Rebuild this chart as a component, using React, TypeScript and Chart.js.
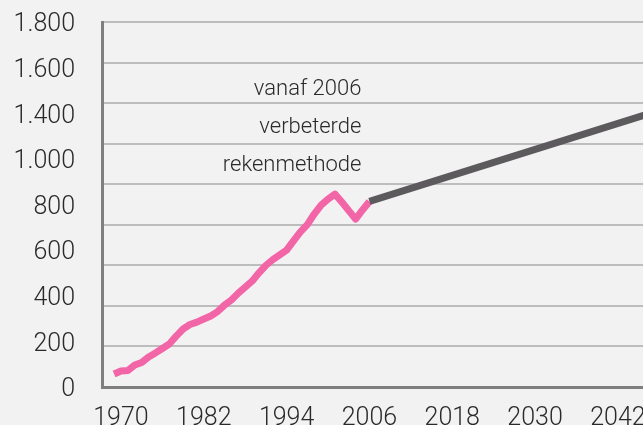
import React, { useEffect, useRef } from "react";
import { Chart, registerables } from "chart.js";

Chart.register(...registerables);

// Historical series (pink), values in gridline units
const historyYears = [
  1969, 1970, 1971, 1972, 1973, 1974, 1975, 1976, 1977, 1978, 1979, 1980, 1981,
  1982, 1983, 1984, 1985, 1986, 1987, 1988, 1989, 1990, 1991, 1992, 1993, 1994,
  1995, 1996, 1997, 1998, 1999, 2000, 2001, 2002, 2003, 2004, 2005, 2006,
];
const historyValues = [
  64, 79, 81, 108, 121, 148, 168, 190, 212, 251, 286, 308, 320,
  335, 350, 372, 404, 429, 463, 493, 522, 563, 600, 628, 652, 675,
  721, 765, 801, 853, 897, 927, 951, 912, 870, 828, 873, 915,
];

// Projection (dark grey)
const projectionYears = [2006, 2050];
const projectionValues = [915, 1385];

// Axis labels
const xTickYears = [1970, 1982, 1994, 2006, 2018, 2030, 2042];
const yTickLabels = ["0", "200", "400", "600", "800", "1.000", "1.400", "1.600", "1.800"];
const annotationLines = ["vanaf 2006", "verbeterde", "rekenmethode"];

const CANVAS_W = 680;
const CANVAS_H = 450;
const TEXT_COLOR = "#2a2a2a";
const FONT_FAMILY = "Roboto";

const annotationPlugin = {
  id: "methodNote",
  afterDatasetsDraw(chart: any) {
    const { ctx, scales } = chart;
    const x = scales.x.getPixelForValue(2006) - 8;
    const y0 = scales.y.getPixelForValue(1440);
    ctx.save();
    ctx.font = `300 22px ${FONT_FAMILY}`;
    ctx.fillStyle = TEXT_COLOR;
    ctx.textAlign = "right";
    ctx.textBaseline = "alphabetic";
    annotationLines.forEach((line, i) => {
      ctx.fillText(line, x, y0 + i * 38);
    });
    ctx.restore();
  },
};

export default function App() {
  const canvasRef = useRef<HTMLCanvasElement | null>(null);

  useEffect(() => {
    const canvas = canvasRef.current;
    if (!canvas) return;
    const chart = new Chart(canvas, {
      type: "line",
      data: {
        datasets: [
          {
            label: "Prognose",
            data: projectionYears.map((x, i) => ({ x, y: projectionValues[i] })),
            borderColor: "#5d5a5e",
            borderWidth: 7,
            pointRadius: 0,
            tension: 0,
            borderCapStyle: "butt",
            xAxisID: "x",
            yAxisID: "y",
          },
          {
            label: "Historisch",
            data: historyYears.map((x, i) => ({ x, y: historyValues[i] })),
            borderColor: "#f265a6",
            borderWidth: 7,
            pointRadius: 0,
            tension: 0,
            borderJoinStyle: "round",
            borderCapStyle: "butt",
            xAxisID: "x",
            yAxisID: "y",
          },
        ],
      },
      options: {
        animation: false,
        responsive: false,
        devicePixelRatio: 1,
        layout: { padding: { top: 22, left: 0, right: 0, bottom: 0 } },
        plugins: {
          legend: { display: false },
          tooltip: { enabled: false },
        },
        scales: {
          x: {
            type: "linear",
            position: "bottom",
            min: 1967.25,
            max: 2051,
            grid: { display: false, drawTicks: false },
            border: { display: true, color: "#7f7f7f", width: 3 },
            afterBuildTicks: (scale: any) => {
              scale.ticks = xTickYears.map((v) => ({ value: v }));
            },
            afterFit: (scale: any) => {
              scale.height = CANVAS_H - 387;
              scale.paddingLeft = 0;
              scale.paddingRight = 0;
            },
            ticks: {
              autoSkip: false,
              maxRotation: 0,
              padding: 17,
              color: TEXT_COLOR,
              font: { family: FONT_FAMILY, size: 25, weight: "300" },
              callback: (v: any) => String(v),
            },
          },
          yL: {
            type: "linear",
            position: "left",
            min: 0,
            max: 1800,
            grid: { display: false, drawTicks: false },
            border: { display: true, color: "#7f7f7f", width: 3 },
            afterBuildTicks: (scale: any) => {
              scale.ticks = yTickLabels.map((_, i) => ({
                value: (i * 1800) / (yTickLabels.length - 1),
              }));
            },
            afterFit: (scale: any) => {
              scale.width = 102;
              scale.paddingTop = 0;
              scale.paddingBottom = 0;
            },
            ticks: {
              padding: 27,
              labelOffset: 3,
              color: TEXT_COLOR,
              font: { family: FONT_FAMILY, size: 25, weight: "300" },
              callback: (_v: any, i: number) => yTickLabels[i],
            },
          },
          y: {
            type: "linear",
            position: "right",
            min: 0,
            max: 1800,
            ticks: { display: false, stepSize: 200 },
            grid: { color: "#bdbdbd", lineWidth: 2, drawTicks: false },
            border: { display: false },
            afterFit: (scale: any) => {
              scale.width = 0;
              scale.paddingTop = 0;
              scale.paddingBottom = 0;
            },
          },
        },
      },
      plugins: [annotationPlugin],
    });
    return () => chart.destroy();
  }, []);

  return (
    <div
      style={{
        position: "fixed",
        left: 0,
        top: 0,
        width: 643,
        height: 425,
        overflow: "hidden",
        background: "#f2f2f2",
      }}
    >
      <canvas
        ref={canvasRef}
        width={CANVAS_W}
        height={CANVAS_H}
        style={{ display: "block", width: CANVAS_W, height: CANVAS_H }}
      />
    </div>
  );
}
